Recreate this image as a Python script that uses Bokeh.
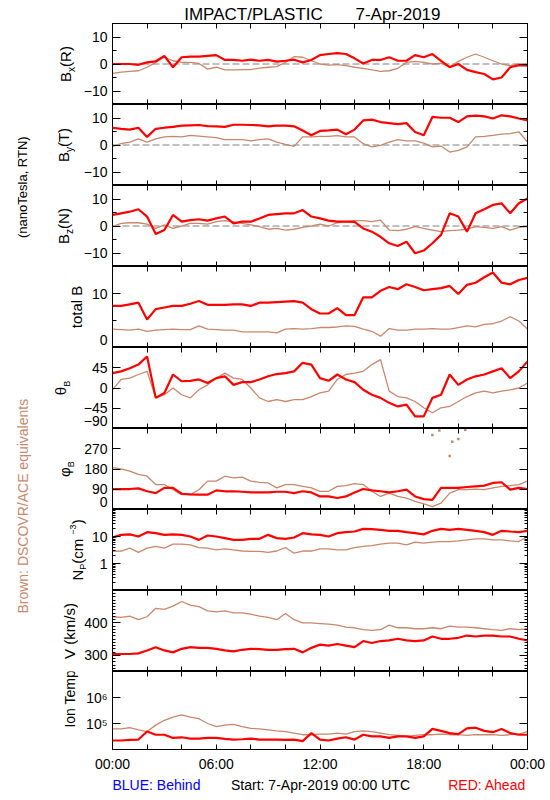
import math
from bokeh.plotting import figure
from bokeh.models import Range1d, FixedTicker, LinearAxis, LogAxis, Span, ColumnDataSource
from bokeh.layouts import row, column
from bokeh.embed import file_html
from bokeh.resources import INLINE
from bokeh.core.properties import value

# ---------------- data (every 30 min) ----------------
hours = [i * 0.5 for i in range(49)]

bx_red = [0, 0, 0, -0.3, 0.6, 1, 3, -1.2, 2.5, 2.7, 2.7, 3, 3.3, 1.5, 1.5, 1.2, 1.6, 1.2, 1.5, 0.9,
          1.2, 1.6, 0.6, 1.5, 3.3, 3.7, 4, 3.7, 2.1, 0.2, 1.5, 1.5, 2.5, 1.2, 1.2, 3.3, 2.5, 3.7, 1.2,
          -1.2, 0, -2.2, -3, -3.7, -5.7, -5, -1.2, -0.4, -0.6]
bx_brown = [-3.5, -3, -2.7, -2.5, -1.2, 0.6, 2.5, 1.2, 0.6, 0.6, 0.2, -1.9, -1.2, -2.2, -2.2, -2.1,
            -2.1, -1.5, -1.2, -1, 0.6, 2.7, 2.5, 1.2, 0, -0.4, -0.2, -0.6, -1.2, -1.6, -2.2, -2.7,
            -2.5, -1.6, 0.6, 1, 0.6, 0, 0.2, -1, 1, 2.5, 3.7, 2.5, 1.2, 0, -0.6, 0, 0]
by_red = [6.4, 6, 5.7, 6.4, 3, 6, 6.4, 6.7, 7.2, 7.3, 7.4, 7, 6.9, 6.7, 7.5, 7.5, 7.4, 7.3, 6.9, 7.2,
          7.2, 6.9, 5.4, 3.6, 5.2, 5.4, 5.7, 4, 5.7, 9.1, 9.4, 8.5, 8.1, 7.7, 8.1, 4.8, 3.6, 10.4,
          10.1, 10.1, 8.5, 10.6, 10.9, 10.6, 9.8, 11, 10.6, 9.8, 9.1]
by_brown = [-0.5, 0.5, 1.1, 2.3, 1.1, 2.3, 3, 3.2, 3, 3.6, 3.3, 3, 2.7, 2, 2, 2, 1.5, 2, 2.3, 1.1,
            0.2, -0.5, 3, 3, 3.2, 3.2, 3.5, 3, 3, 0.5, -0.7, -0.1, 1.1, 2, 1.5, 1.5, 0.7, -0.7,
            -0.4, -2.6, -2, -0.7, 3, 3.2, 3.6, 4, 4.2, 4.9, 1.1]
bz_red = [4.1, 4.7, 5.3, 6.2, 3.5, -3, -1.5, 4.1, 1.6, 2.2, 2.5, 2, 2.8, 3.5, 1, 1.6, 1.6, 2.8, 4.1,
          4.4, 4.7, 4.7, 5.9, 3.5, 2.8, 2, 1.6, 1.6, 1.5, -0.9, -2.1, -4, -6.4, -7.4, -5.8, -10.1,
          -9.1, -6.4, -3.3, 4.7, 3.5, -2.1, 4.7, 6.2, 7.8, 8.4, 4.7, 8.4, 10.2]
bz_brown = [-0.2, 1, 1.2, 1.2, 0.7, -0.9, 0.4, -0.9, 0, 1, 1, 0.7, 1.6, 2, 1.5, 1, 0.4, -0.2, -1.2,
            -0.9, -1.5, -1.2, -0.5, 0, 0.7, 0, 1.2, 1.6, 2, 2, 1.6, 2.2, -1.5, -1.7, -1.2, -0.2,
            -0.9, -1.5, -2.1, -1.7, -1.5, -1.2, -0.2, -0.5, -0.9, -0.2, -1.5, -0.5, -0.2]
btot_red = [7.7, 7.7, 8, 8.3, 5.2, 7.1, 7.4, 7.7, 7.7, 8.1, 8.6, 7.9, 7.9, 7.9, 8, 8, 7.7, 8.3, 8.3,
            8.4, 8.5, 8.6, 8.3, 7.1, 6.3, 6.3, 7.3, 6, 6, 9.3, 9.3, 10.5, 11.2, 10.8, 11.7, 11.2,
            10.6, 10.8, 11, 11.4, 9.9, 11.6, 12, 13, 13.9, 12, 11.7, 12.5, 12.9]
btot_brown = [3.4, 3.3, 3.2, 3.4, 3, 3.2, 3.3, 3.4, 3.3, 3.3, 4, 3.4, 3.3, 3.2, 3.2, 2.9, 2.9, 2.9,
              2.9, 2.7, 3.4, 3.5, 3.4, 3.5, 3.7, 3.7, 3.8, 4, 3.9, 3.4, 3, 2.1, 3.5, 3.2, 3.2,
              3.4, 3.4, 3.5, 3.4, 3.4, 3.7, 4, 3.8, 4.3, 4.4, 4.9, 5.7, 4.9, 3.4]
theta_red = [33, 37, 44, 52, 70, -22, -11, 30, 15, 16, 19, 11, 22, 26, 7, 13, 13, 19, 26, 31, 33, 37,
             56, 52, 22, 16, 30, 19, 13, -4, -15, -22, -33, -41, -37, -63, -63, -22, -15, 30, 7,
             19, 26, 30, 37, 44, 22, 37, 59]
theta_brown = [-4, 19, 22, 30, 37, -22, -15, 0, -15, -22, -4, 7, 22, 33, 22, 19, 0, -22, -30, -26,
               -30, -26, -26, -19, -11, -7, 19, 30, 33, 37, 52, 63, -7, -19, -22, -30, -44, -55,
               -44, -41, -30, -19, -11, -7, -11, -7, -4, 0, 11]
phi_red = [91, 91, 91, 94, 81, 73, 96, 96, 70, 67, 66, 66, 85, 81, 81, 79, 76, 76, 76, 79, 79, 73,
           81, 76, 58, 58, 51, 58, 76, 91, 85, 81, 76, 81, 88, 58, 46, 43, 96, 96, 96, 100, 103,
           106, 118, 121, 88, 96, 91]
phi_brown = [186, 181, 171, 156, 148, 111, 111, 88, 66, 66, 88, 126, 126, 148, 141, 144, 126, 121,
             118, 96, 111, 111, 103, 96, 81, 81, 103, 106, 115, 111, 81, 58, 73, 58, 51, 36, 25, 13,
             28, 73, 88, 88, 91, 88, 96, 103, 106, 111, 126]
phi_brown_high_hours = [18.5, 18.9, 19.5, 19.65, 20.0, 20.4]
phi_brown_high = [331, 351, 238, 301, 313, 355]
np_red = [9.2, 11.5, 12, 10, 14.5, 13.3, 11.5, 12, 11.5, 10, 7.5, 10.9, 10, 8.7, 7.5, 7.5, 8.2, 8.2,
          11.5, 8.7, 8.2, 9.2, 13.3, 12, 11.5, 10, 13.3, 14.5, 15.3, 19.2, 18.7, 17.7, 16.2, 16.2,
          14.5, 13.3, 12, 16.2, 19.2, 17.7, 19.2, 17.7, 16.2, 14.5, 11.5, 16.2, 15.3, 14.5, 16.2]
np_brown = [2.8, 2.9, 3.7, 2.6, 3.7, 4.3, 3.7, 5.2, 5.2, 4.9, 3.9, 3.7, 3.2, 3.5, 3.2, 2.9, 2.8, 2.8,
            2.6, 2.9, 3.9, 2.4, 2.9, 2.9, 3.5, 3.5, 3.2, 3.2, 3.9, 4.3, 4.6, 5.2, 5.7, 5.7, 4.9,
            6.2, 5.7, 6.2, 6.5, 6.5, 6.9, 7.5, 8.2, 8.2, 7.5, 7.5, 6.9, 6.5, 10]
v_red = [304, 304, 304, 306, 315, 325, 315, 309, 320, 325, 323, 323, 320, 315, 312, 317, 320, 319,
         317, 317, 319, 320, 309, 323, 333, 330, 335, 330, 325, 344, 338, 344, 346, 351, 346, 344,
         346, 358, 351, 351, 354, 361, 358, 361, 361, 358, 358, 351, 346]
v_brown = [419, 417, 421, 410, 419, 445, 442, 452, 466, 455, 450, 437, 434, 437, 431, 431, 427, 421,
           417, 410, 429, 410, 400, 400, 398, 396, 393, 387, 385, 379, 377, 379, 393, 385, 385, 382,
           382, 385, 382, 390, 387, 387, 385, 382, 379, 377, 382, 379, 382]
temp_red = [22200, 22200, 23500, 24100, 49000, 37000, 37000, 27800, 29500, 26300, 26300, 27800,
            27800, 25600, 24100, 24800, 26300, 24100, 24100, 24100, 23500, 24100, 20900, 42600,
            24100, 22200, 26300, 29500, 24100, 37000, 32100, 32100, 27800, 32100, 32100, 27800,
            32100, 61800, 52000, 42600, 39200, 65300, 69000, 52000, 46400, 61800, 42600, 37000,
            37000]
temp_brown = [61800, 61800, 69000, 56600, 49000, 86700, 133000, 176000, 215000, 176000, 153000,
              100000, 75300, 86700, 91800, 75300, 65300, 61800, 56600, 52000, 49000, 42600, 37000,
              37000, 39200, 39200, 42600, 39200, 49000, 52000, 49000, 42600, 37000, 34900, 32100,
              34900, 37000, 37000, 39200, 37000, 37000, 34900, 37000, 37000, 37000, 34900, 37000,
              39200, 49000]

x_ticks = [0, 6, 12, 18, 24]
x_minor = [2, 4, 8, 10, 14, 16, 20, 22]
x_all = [0, 2, 4, 6, 8, 10, 12, 14, 16, 18, 20, 22, 24]
x_labels = ["00:00", "06:00", "12:00", "18:00", "00:00"]

# ---------------- styling / geometry (page pixels) ----------------
FONT = "Liberation Sans"
RED = "#ff0000"
BROWN = "#c9876c"
FRAME_L = 112      # plot frame left edge on the page
FRAME_R = 527
COL_L = 40         # left edge of panel column
COL_R = 548
TOP = 23           # first frame top
FRAME_H = 81
XLAB_H = 22        # room under last panel for time labels
PAGE_B = 798
K = 0.25           # baseline correction (fraction of font size)
EDGE_LIFT = 8      # px a label sitting on the lower frame edge is lifted

xr = Range1d(0, 24)

CW = {' ': .278, '(': .333, ')': .333, '/': .278, 'B': .667, 'R': .722, 'T': .611, 'N': .722,
      'P': .667, 'V': .667, 'I': .278, 'a': .556, 'c': .5, 'e': .556, 'k': .5, 'l': .222,
      'm': .833, 'n': .556, 'o': .556, 'p': .556, 's': .5, 't': .278, 'x': .5, 'y': .5, 'z': .5,
      '\u03b8': .556, '\u03c6': .65, '\u2212': .584, '3': .556}


def tw(s, size):
    return sum(CW.get(c, .556) for c in s) * size


def strip(width, height, x0, x1, ytop, ybot):
    f = figure(width=width, height=height, x_range=Range1d(x0, x1), y_range=Range1d(ybot, ytop),
               x_axis_type=None, y_axis_type=None, output_backend="svg", toolbar_location=None,
               min_border=0)
    f.outline_line_color = None
    f.background_fill_color = "white"
    f.border_fill_color = "white"
    return f


def htext(f, x, y, t, size, align, color="black"):
    f.text(x=[x], y=[y - K * size], text=[t], text_font=value(FONT),
           text_font_size=value(f"{size}px"), text_align=align, text_baseline="alphabetic",
           text_color=color)


def vtext(f, xb, yc, pieces, color="black"):
    total = sum(tw(t, s) for t, s, _ in pieces)
    y = yc + total / 2
    for t, s, sh in pieces:
        f.text(x=[xb + sh - K * s], y=[y], text=[t], angle=math.pi / 2, text_font=value(FONT),
               text_font_size=value(f"{s}px"), text_align="left", text_baseline="alphabetic",
               text_color=color)
        y -= tw(t, s)


def style_axis(ax, maj_in, min_in):
    ax.major_tick_in = maj_in
    ax.major_tick_out = 0
    ax.minor_tick_in = min_in
    ax.minor_tick_out = 0
    ax.axis_line_color = "black"
    ax.major_tick_line_color = "black"
    ax.minor_tick_line_color = "black"


def make_row(idx, split, y_range, log, yt, ymin, ylab, min_len, label_x, pieces, last=False,
             label_dy=0):
    ftop = TOP + FRAME_H * idx
    h = FRAME_H + (XLAB_H if last else 0)
    lab = strip(split - COL_L, h, COL_L, split, ftop, ftop + h)
    vtext(lab, label_x, ftop + FRAME_H / 2 + label_dy, pieces)

    p = figure(width=COL_R - split, height=h, x_range=xr, y_range=y_range,
               y_axis_type="log" if log else "linear", output_backend="svg",
               toolbar_location=None, min_border=0)
    p.min_border_left = FRAME_L - split
    p.min_border_right = COL_R - FRAME_R
    p.min_border_top = 0
    p.min_border_bottom = XLAB_H if last else 0
    p.grid.visible = False
    p.outline_line_color = "black"
    p.background_fill_color = "white"
    p.border_fill_color = "white"

    bottom = p.below[0]
    left = p.left[0]
    AxisT = LogAxis if log else LinearAxis

    # time axis at the bottom
    style_axis(bottom, 5, 5)
    if last:
        bottom.ticker = FixedTicker(ticks=x_ticks, minor_ticks=x_minor)
        bottom.major_label_overrides = {t: s for t, s in zip(x_ticks, x_labels)}
        bottom.major_label_text_font = FONT
        bottom.major_label_text_font_size = "14px"
        bottom.major_label_text_color = "black"
        bottom.major_label_standoff = 6
    else:
        bottom.ticker = FixedTicker(ticks=[], minor_ticks=x_all)
    # unlabeled time ticks along the top
    top = LinearAxis(ticker=FixedTicker(ticks=[], minor_ticks=x_all))
    style_axis(top, 0, 5)
    p.add_layout(top, "above")

    # left: tick marks (zero-width axes at the frame edge) ...
    left.ticker = FixedTicker(ticks=[], minor_ticks=yt)
    style_axis(left, 0, 8)
    if ymin:
        l2 = AxisT(ticker=FixedTicker(ticks=[], minor_ticks=ymin))
        style_axis(l2, 0, min_len)
        p.add_layout(l2, "left")
    # ... and the value labels; a label on the lower frame edge is lifted so it stays whole
    lo, hi = y_range.start, y_range.end
    pos = []
    for t in yt:
        if t == lo:
            if log:
                t = lo * (hi / lo) ** (EDGE_LIFT / FRAME_H)
            else:
                t = lo + (hi - lo) * EDGE_LIFT / FRAME_H
        pos.append(t)
    lab_ax = AxisT(ticker=FixedTicker(ticks=pos))
    style_axis(lab_ax, 0, 0)
    lab_ax.axis_line_color = None
    lab_ax.major_label_overrides = {t: s for t, s in zip(pos, ylab)}
    lab_ax.major_label_text_font = FONT
    lab_ax.major_label_text_font_size = "14px"
    lab_ax.major_label_text_color = "black"
    lab_ax.major_label_standoff = 5
    p.add_layout(lab_ax, "left")

    # unlabeled mirror ticks at the right
    r1 = AxisT(ticker=FixedTicker(ticks=[], minor_ticks=yt))
    style_axis(r1, 0, 8)
    p.add_layout(r1, "right")
    if ymin:
        r2 = AxisT(ticker=FixedTicker(ticks=[], minor_ticks=ymin))
        style_axis(r2, 0, min_len)
        p.add_layout(r2, "right")
    return lab, p


def draw(p, red, brown):
    src = ColumnDataSource(dict(h=hours, r=red, b=brown))
    p.line("h", "b", source=src, line_color=BROWN, line_width=1.3)
    p.line("h", "r", source=src, line_color=RED, line_width=2.2)


def zero_line(p):
    p.add_layout(Span(location=0, dimension="width", line_color="#808080", line_width=1,
                      line_dash="7 3", level="underlay"))


mB = "\u2212"
rows = []

l1, p1 = make_row(0, 78, Range1d(-15, 15), False, [-10, 0, 10], [-5, 5],
                  [mB + "10", "0", "10"], 4, 69, [("B", 15, 0), ("x", 10, 4), ("(R)", 15, 0)])
zero_line(p1)
draw(p1, bx_red, bx_brown)
rows.append(row(l1, p1))

l2, p2 = make_row(1, 78, Range1d(-15, 15), False, [-10, 0, 10], [-5, 5],
                  [mB + "10", "0", "10"], 4, 67, [("B", 15, 0), ("y", 10, 4), ("(T)", 15, 0)])
zero_line(p2)
draw(p2, by_red, by_brown)
rows.append(row(l2, p2))

l3, p3 = make_row(2, 78, Range1d(-15, 15), False, [-10, 0, 10], [-5, 5],
                  [mB + "10", "0", "10"], 4, 67, [("B", 15, 0), ("z", 10, 4), ("(N)", 15, 0)])
zero_line(p3)
draw(p3, bz_red, bz_brown)
rows.append(row(l3, p3))

l4, p4 = make_row(3, 85, Range1d(0, 15), False, [0, 10], [5], ["0", "10"], 4, 80,
                  [("total B", 15, 0)])
draw(p4, btot_red, btot_brown)
rows.append(row(l4, p4))

l5, p5 = make_row(4, 72, Range1d(-90, 90), False, [-90, -45, 0, 45], [],
                  [mB + "90", mB + "45", "0", "45"], 4, 64, [("\u03b8", 15, 0), ("B", 9, 5)])
draw(p5, theta_red, theta_brown)
rows.append(row(l5, p5))

l6, p6 = make_row(5, 80, Range1d(0, 360), False, [0, 90, 180, 270], [],
                  ["0", "90", "180", "270"], 4, 68, [("\u03c6", 15, 0), ("B", 9, 5)])
draw(p6, phi_red, phi_brown)
p6.scatter(phi_brown_high_hours, phi_brown_high, marker="square", size=2.5,
           color=BROWN, line_color=None)
rows.append(row(l6, p6))

np_minor = [0.2, 0.3, 0.4, 0.5, 0.6, 0.7, 0.8, 0.9, 2, 3, 4, 5, 6, 7, 8, 9,
            20, 30, 40, 50, 60, 70, 80, 90]
l7, p7 = make_row(6, 88, Range1d(0.1, 100), True, [1, 10], np_minor, ["1", "10"], 3, 81,
                  [("N", 15, 0), ("P", 9, 3.5), (" (cm", 15, 0), (mB + "3", 9, -6), (")", 15, 0)])
draw(p7, np_red, np_brown)
rows.append(row(l7, p7))

v_minor = [260, 270, 280, 290, 310, 320, 330, 340, 350, 360, 370, 380, 390,
           410, 420, 430, 440, 450, 460, 470, 480, 490]
l8, p8 = make_row(7, 78, Range1d(250, 500), False, [300, 400], v_minor, ["300", "400"], 3, 73,
                  [("V (km/s)", 15, 0)])
draw(p8, v_red, v_brown)
rows.append(row(l8, p8))

l9, p9 = make_row(8, 80, Range1d(1e4, 1e7), True, [1e5, 1e6], [], ["10\u2075", "10\u2076"], 3,
                  73, [("Ion Temp", 14, 0)], last=True, label_dy=4)
draw(p9, temp_red, temp_brown)
rows.append(row(l9, p9))

# title strip
title = strip(COL_R - COL_L, TOP, COL_L, COL_R, 0, TOP)
htext(title, 253, 18, "IMPACT/PLASTIC", 17, "center")
htext(title, 397.5, 18, "7-Apr-2019", 17, "center")

# footer strip
foot_top = TOP + 9 * FRAME_H + XLAB_H
foot = strip(COL_R - COL_L, PAGE_B - foot_top, COL_L, COL_R, foot_top, PAGE_B)
htext(foot, FRAME_L, 788, "BLUE: Behind", 14, "left", "#0000ff")
htext(foot, 320, 788, "Start: 7-Apr-2019 00:00 UTC", 14, "center")
htext(foot, 525.5, 788, "RED: Ahead", 14, "right", RED)

# far-left strip with the long vertical captions
side = strip(COL_L, PAGE_B, 0, COL_L, 0, PAGE_B)
vtext(side, 25.5, 184, [("(nanoTesla, RTN)", 13, 0)])
vtext(side, 25.5, 508, [("Brown: DSCOVR/ACE equivalents", 14, 0)], color=BROWN)

layout = row(side, column(title, *rows, foot))
open("out.html", "w").write(file_html(layout, INLINE))
